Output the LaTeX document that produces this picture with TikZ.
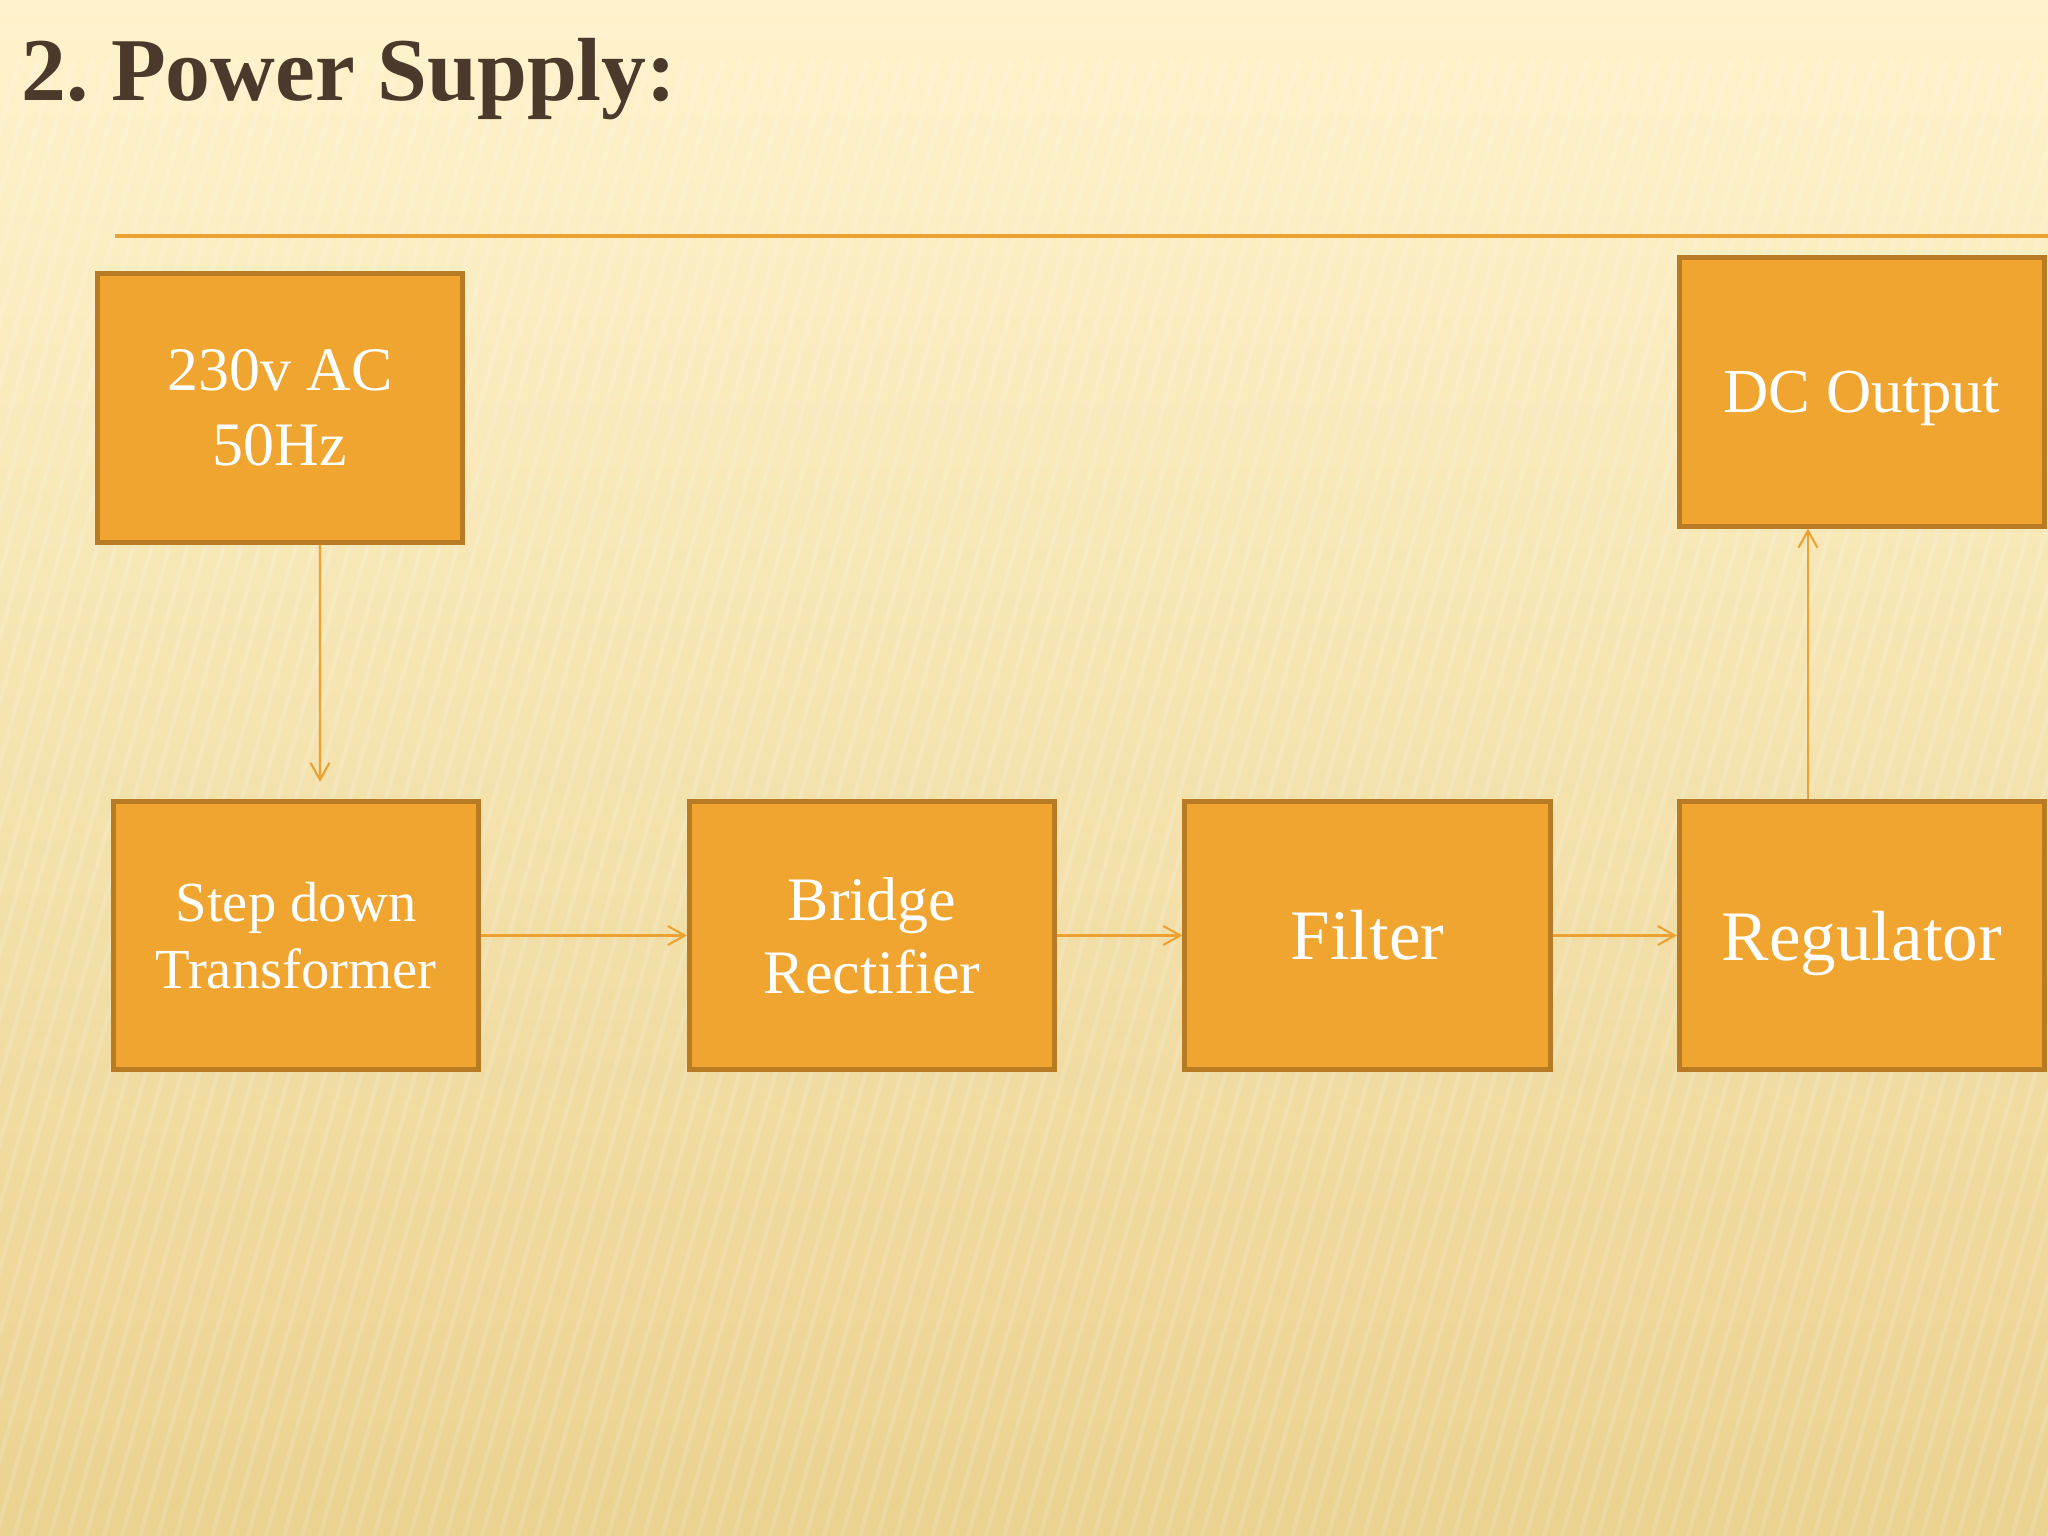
\documentclass[tikz,border=0pt]{standalone}
\usepackage{fontspec}
\setmainfont{Liberation Serif}
\usetikzlibrary{arrows.meta}
\frenchspacing

\definecolor{bgtop}{HTML}{FFF3CD}
\definecolor{bgbot}{HTML}{EAD290}
\definecolor{boxfill}{HTML}{EFA52F}
\definecolor{boxedge}{HTML}{B87A22}
\definecolor{flowcol}{HTML}{EBA232}
\definecolor{titlecol}{HTML}{4B3A2B}

\begin{document}
\begin{tikzpicture}[x=0.01cm, y=-0.01cm,
    block/.style={rectangle, fill=boxfill, draw=boxedge, line width=1.4pt,
                  minimum width=3.65cm, minimum height=2.68cm, text=white,
                  align=center, inner sep=0pt},
    flow/.style={draw=flowcol, line width=0.6pt, -{Straight Barb[length=1.7mm, width=1.9mm]}}]
            % Arka plan
            \useasboundingbox (0,0) rectangle (2048,1536);
            \shade[top color=bgtop, bottom color=bgbot] (0,0) rectangle (2048,1536);
            \foreach \i in {-400,-382,...,2100}
                \draw[white, opacity=0.14, line width=1.2pt] (\i,1536) -- (\i+420,60);

            % Baslik
            \node[anchor=base west, text=titlecol, font=\fontsize{25.5}{30}\selectfont\bfseries]
                (title) at (9,100) {2. Power Supply:};
            \draw[flowcol, line width=0.9pt] (115,236) -- (2048,236);

            % Bloklar
            \node[block, font=\fontsize{17.6}{21.3}\selectfont] (acsrc) at (280,408) {230v AC\\ 50Hz};
            \node[block, font=\fontsize{16.1}{19}\selectfont] (stepdown) at (296,935.5) {Step down\\ Transformer};
            \node[block, font=\fontsize{17.6}{20.8}\selectfont] (bridge) at (872,935.5) {Bridge\\ Rectifier};
            \node[block, font=\fontsize{20.2}{24}\selectfont] (filter) at (1367.5,935.5) {Filter};
            \node[block, text depth=0pt, font=\fontsize{20.2}{24}\selectfont] (regul) at (1862,935.5) {Regulator};
            \node[block, text depth=0pt, font=\fontsize{17.8}{21}\selectfont] (dcout) at (1862,392) {DC Output};

            % Oklar
            \draw[flow] ([xshift=4mm]acsrc.south) -- ([xshift=2.4mm, yshift=1.7mm]stepdown.north);
            \draw[flow] (stepdown.east) -- (bridge.west);
            \draw[flow] (bridge.east) -- (filter.west);
            \draw[flow] (filter.east) -- (regul.west);
            \draw[flow] ([xshift=-5.4mm]regul.north) -- ([xshift=-5.4mm]dcout.south);
        \end{tikzpicture}
\end{document}
